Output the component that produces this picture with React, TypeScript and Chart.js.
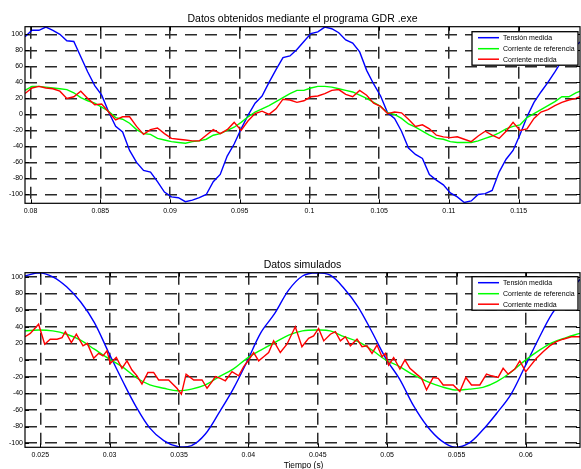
import React, { useEffect, useRef } from "react";
import { Chart, registerables } from "chart.js";

Chart.register(...registerables);

// ---------- Data: "Datos obtenidos mediante el programa GDR .exe" ----------
const gdrStart = 0.0796;
const gdrStep = 0.0005;
const gdrVoltage = [
  97, 105, 105, 109, 105, 100, 92, 91, 72, 53, 36, 24, 3, -15, -22, -45, -60, -70, -72, -84,
  -97, -103, -104, -109, -107, -104, -100, -84, -75, -52, -37, -18, -1, 14, 23, 40, 56, 71, 73, 81,
  91, 101, 103, 109, 107, 102, 93, 89, 78, 55, 38, 23, 2, -5, -21, -42, -50, -55, -75, -82,
  -88, -98, -103, -110, -108, -100, -99, -95, -72, -56, -45, -25, -3, 15, 28, 40, 53, 67, 77, 86,
  93,
];
const gdrRefCurrent = [
  30, 35, 35, 34, 33, 32, 31, 27, 21, 17, 14, 9, 4, -4, -6, -11, -19, -24, -25, -30,
  -32, -34, -35, -36, -34, -33, -31, -26, -24, -20, -16, -10, -3, 3, 7, 11, 16, 21, 26, 30,
  30, 33, 35, 35, 34, 32, 30, 28, 24, 20, 15, 10, 2, 0, -5, -12, -16, -21, -26, -30,
  -31, -34, -35, -35, -35, -33, -30, -27, -23, -18, -15, -13, -4, 1, 6, 11, 16, 22, 22, 27,
  30,
];
const gdrMeasCurrent = [
  26, 33, 35, 33, 32, 29, 20, 22, 29, 20, 12, 13, 3, -7, -3, -3, -15, -25, -19, -17,
  -24, -30, -31, -32, -33, -33, -26, -19, -24, -19, -10, -20, -8, 1, 4, 0, 7, 19, 18, 15,
  17, 22, 23, 26, 30, 31, 25, 22, 30, 24, 14, 10, 1, 3, 2, -6, -15, -13, -18, -26,
  -28, -29, -28, -31, -34, -27, -21, -26, -30, -21, -10, -20, -18, -5, 3, 6, 11, 15, 18, 20,
  24,
];
const gdrXTicks = [0.08, 0.085, 0.09, 0.095, 0.1, 0.105, 0.11, 0.115];

// ---------- Data: "Datos simulados" ----------
const simStart = 0.0239;
const simStep = 0.001;
const simVoltage = [
  101, 105, 100, 88, 70, 45, 10, -24, -56, -82, -97, -104, -103, -89, -63, -35, -2, 33, 56, 84,
  101, 105, 102, 86, 64, 34, 2, -23, -55, -80, -97, -105, -100, -84, -64, -42, -9, 25, 56, 78,
  97,
];
const simRefCurrent = [
  35, 36, 35, 31, 24, 13, 2, -8, -21, -30, -34, -37, -35, -30, -20, -11, 2, 12, 21, 30,
  35, 36, 35, 28, 22, 12, 0, -8, -18, -26, -32, -36, -35, -33, -26, -15, -1, 11, 21, 27,
  32,
];
const simMeasTime = [
  0.0239, 0.02428, 0.02488, 0.02532, 0.02572, 0.02621, 0.02657, 0.02681, 0.02724, 0.0276,
  0.02808, 0.02839, 0.02885, 0.02921, 0.02952, 0.02981, 0.03005, 0.03048, 0.03089, 0.03125,
  0.03161, 0.03197, 0.03233, 0.03276, 0.03317, 0.03353, 0.03425, 0.03485, 0.03517, 0.03551,
  0.03606, 0.03666, 0.03702, 0.03738, 0.03762, 0.03798, 0.03834, 0.03882, 0.0393, 0.03966,
  0.04002, 0.04038, 0.04074, 0.0411, 0.04146, 0.04182, 0.0423, 0.04278, 0.04338, 0.04386,
  0.04434, 0.0447, 0.04506, 0.04543, 0.04591, 0.04627, 0.04663, 0.04699, 0.04735, 0.04783,
  0.04819, 0.04855, 0.04891, 0.04927, 0.04963, 0.04987, 0.05011, 0.05047, 0.05092, 0.05128,
  0.05164, 0.05212, 0.05248, 0.05284, 0.05332, 0.05368, 0.05404, 0.05476, 0.05524, 0.05567,
  0.05608, 0.05668, 0.05716, 0.05752, 0.058, 0.05836, 0.05872, 0.0592, 0.05956, 0.05999,
  0.06028, 0.06076, 0.06124, 0.06172, 0.0622, 0.06268, 0.06328, 0.064,
];
const simMeasCurrent = [
  28, 32, 43, 19, 25, 25, 27, 34, 21, 31,
  17, 20, 2, 8, 5, 11, -4, 3, -10, -1,
  -12, -19, -29, -15, -15, -24, -24, -34, -41, -17,
  -24, -24, -34, -26, -20, -22, -25, -14, -19, -8,
  0, 9, -1, 4, 9, 23, 9, 19, 40, 16,
  26, 29, 38, 23, 31, 34, 23, 28, 17, 25,
  16, 17, 8, 18, 4, 8, -6, 3, -11, 0,
  -10, -17, -22, -36, -21, -22, -30, -30, -38, -21,
  -30, -30, -17, -19, -21, -10, -17, -11, -1, -14,
  -8, 2, 10, 17, 22, 25, 28, 28,
];
const simXTicks = [0.025, 0.03, 0.035, 0.04, 0.045, 0.05, 0.055, 0.06];

const yTicks = [-100, -80, -60, -40, -20, 0, 20, 40, 60, 80, 100];
const seriesLabels = ["Tensión medida", "Corriente de referencia", "Corriente medida"];
const seriesColors = ["#0000ff", "#00ff00", "#ff0000"];
const gdrTitle = "Datos obtenidos mediante el programa GDR .exe";
const simTitle = "Datos simulados";
const xAxisLabel = "Tiempo (s)";

const FONT = '"Liberation Sans", Arial, Helvetica, sans-serif';
const W = 581;

const fmt = (v: number) => String(Number(Number(v).toFixed(4)));

function regular(values: number[], start: number, step: number) {
  return values.map((v, i) => ({ x: Number((start + i * step).toFixed(5)), y: v }));
}

function paired(times: number[], values: number[]) {
  return values.map((v, i) => ({ x: times[i], y: v }));
}

function makeDecor(title: string, legendTopOffset: number, xlabel: string | null, xlabelBaseline: number) {
  return {
    id: "decor",
    afterDraw(chart: any) {
      const { ctx, chartArea: a, scales } = chart;
      ctx.save();
      // frame
      ctx.strokeStyle = "#000";
      ctx.lineWidth = 1.2;
      ctx.setLineDash([]);
      ctx.strokeRect(a.left, a.top, a.right - a.left, a.bottom - a.top);
      // inward tick marks
      ctx.lineWidth = 1;
      const tl = 4;
      ctx.beginPath();
      scales.x.ticks.forEach((t: any) => {
        const x = Math.round(scales.x.getPixelForValue(t.value)) + 0.5;
        ctx.moveTo(x, a.bottom);
        ctx.lineTo(x, a.bottom - tl);
        ctx.moveTo(x, a.top);
        ctx.lineTo(x, a.top + tl);
      });
      scales.y.ticks.forEach((t: any) => {
        const y = Math.round(scales.y.getPixelForValue(t.value)) + 0.5;
        ctx.moveTo(a.left, y);
        ctx.lineTo(a.left + tl, y);
        ctx.moveTo(a.right, y);
        ctx.lineTo(a.right - tl, y);
      });
      ctx.stroke();
      // title
      ctx.fillStyle = "#000";
      ctx.font = `10.5px ${FONT}`;
      ctx.textAlign = "center";
      ctx.textBaseline = "alphabetic";
      ctx.fillText(title, (a.left + a.right) / 2, a.top - 5);
      // x label
      if (xlabel) {
        ctx.font = `8.4px ${FONT}`;
        ctx.fillText(xlabel, (a.left + a.right) / 2 + 1, xlabelBaseline);
      }
      // legend
      const bw = 106;
      const bh = 33.5;
      const bx = a.right - 108;
      const by = a.top + legendTopOffset;
      ctx.fillStyle = "#fff";
      ctx.fillRect(bx, by, bw, bh);
      ctx.strokeStyle = "#000";
      ctx.lineWidth = 1.3;
      ctx.strokeRect(bx, by, bw, bh);
      const rows = [6, 17, 27.5];
      ctx.font = `7px ${FONT}`;
      ctx.textAlign = "left";
      ctx.textBaseline = "middle";
      chart.data.datasets.forEach((ds: any, i: number) => {
        const ry = by + rows[i];
        ctx.strokeStyle = ds.borderColor;
        ctx.lineWidth = 1.5;
        ctx.beginPath();
        ctx.moveTo(bx + 6, ry);
        ctx.lineTo(bx + 27, ry);
        ctx.stroke();
        ctx.fillStyle = "#000";
        ctx.fillText(ds.label, bx + 31, ry + 0.5);
      });
      ctx.restore();
    },
  };
}

function buildConfig(opts: {
  series: { x: number; y: number }[][];
  tension: number[];
  xMin: number;
  xMax: number;
  yMin: number;
  yMax: number;
  xTicks: number[];
  padTop: number;
  xHeight: number;
  decor: any;
}) {
  const datasets = opts.series.map((data, i) => ({
    label: seriesLabels[i],
    data,
    borderColor: seriesColors[i],
    backgroundColor: seriesColors[i],
    borderWidth: 1.4,
    pointRadius: 0,
    tension: opts.tension[i],
    fill: false,
    order: 2 - i,
  }));
  const tickFont = { family: FONT, size: 7 };
  return {
    type: "line",
    data: { datasets },
    options: {
      animation: false,
      responsive: false,
      maintainAspectRatio: false,
      layout: { padding: { left: 0, right: 1, top: opts.padTop, bottom: 0 } },
      plugins: {
        legend: { display: false },
        title: { display: false },
        tooltip: { enabled: false },
      },
      scales: {
        x: {
          type: "linear",
          min: opts.xMin,
          max: opts.xMax,
          afterBuildTicks: (s: any) => {
            s.ticks = opts.xTicks.map((v) => ({ value: v }));
          },
          afterFit: (s: any) => {
            s.height = opts.xHeight;
          },
          grid: { color: "#2a2a2a", lineWidth: 1.5, drawTicks: false },
          border: { display: false, dash: [12, 8] },
          ticks: {
            autoSkip: false,
            maxRotation: 0,
            minRotation: 0,
            padding: 4,
            color: "#000",
            font: tickFont,
            callback: (v: any) => fmt(v),
          },
        },
        y: {
          type: "linear",
          min: opts.yMin,
          max: opts.yMax,
          afterBuildTicks: (s: any) => {
            s.ticks = yTicks.map((v) => ({ value: v }));
          },
          afterFit: (s: any) => {
            s.width = 25;
          },
          grid: { color: "#2a2a2a", lineWidth: 1.5, drawTicks: false },
          border: { display: false, dash: [12, 8] },
          ticks: {
            padding: 2,
            color: "#000",
            font: tickFont,
            callback: (v: any) => fmt(v),
          },
        },
      },
    },
    plugins: [opts.decor],
  };
}

export default function App() {
  const topRef = useRef<HTMLCanvasElement | null>(null);
  const botRef = useRef<HTMLCanvasElement | null>(null);

  useEffect(() => {
    const top = new Chart(
      topRef.current as HTMLCanvasElement,
      buildConfig({
        series: [
          regular(gdrVoltage, gdrStart, gdrStep),
          regular(gdrRefCurrent, gdrStart, gdrStep),
          regular(gdrMeasCurrent, gdrStart, gdrStep),
        ],
        tension: [0, 0, 0],
        xMin: 0.0796,
        xMax: 0.1194,
        yMin: -111,
        yMax: 109.5,
        xTicks: gdrXTicks,
        padTop: 26.7,
        xHeight: 31.7,
        decor: makeDecor(gdrTitle, 5, null, 0),
      }) as any
    );
    const bot = new Chart(
      botRef.current as HTMLCanvasElement,
      buildConfig({
        series: [
          regular(simVoltage, simStart, simStep),
          regular(simRefCurrent, simStart, simStep),
          paired(simMeasTime, simMeasCurrent),
        ],
        tension: [0.35, 0.35, 0],
        xMin: 0.0239,
        xMax: 0.0639,
        yMin: -105,
        yMax: 105,
        xTicks: simXTicks,
        padTop: 37.7,
        xHeight: 21.7,
        decor: makeDecor(simTitle, 4, xAxisLabel, 233),
      }) as any
    );
    return () => {
      top.destroy();
      bot.destroy();
    };
  }, []);

  return (
    <div style={{ position: "absolute", left: 0, top: 0, width: W, height: 469, background: "#fff" }}>
      <canvas
        ref={topRef}
        width={W}
        height={235}
        style={{ position: "absolute", left: 0, top: 0, display: "block" }}
      />
      <canvas
        ref={botRef}
        width={W}
        height={234}
        style={{ position: "absolute", left: 0, top: 235, display: "block" }}
      />
    </div>
  );
}
